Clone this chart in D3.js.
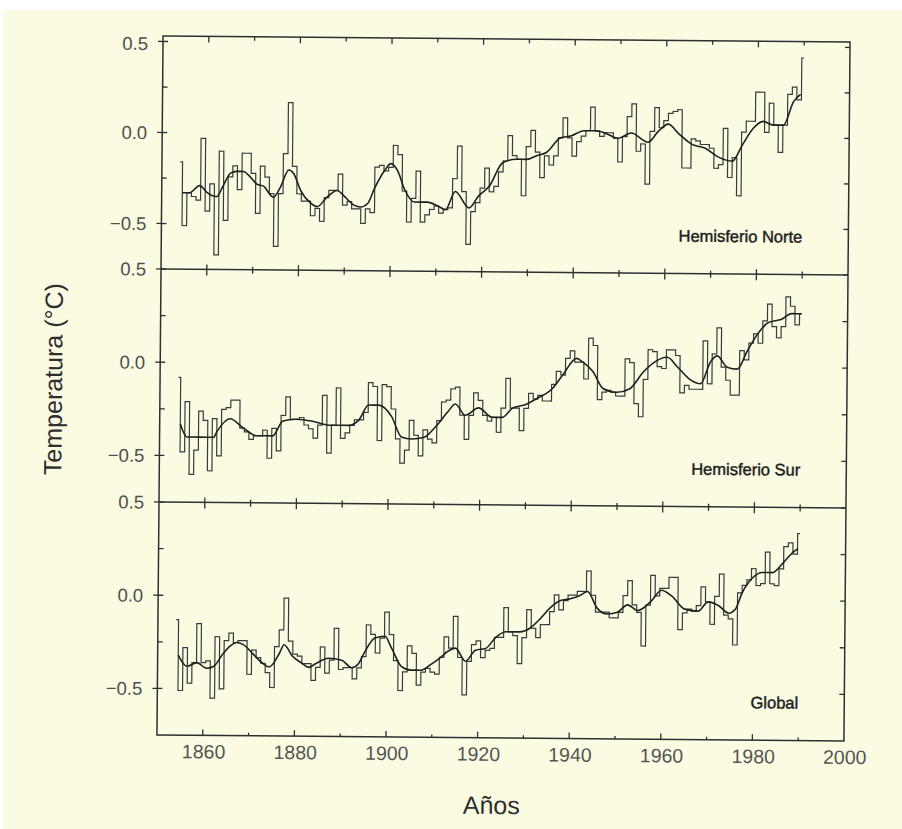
<!DOCTYPE html>
<html>
<head>
<meta charset="utf-8">
<script src="https://cdn.jsdelivr.net/npm/d3@7"></script>
<style>
  body { margin: 0; background: #ffffff; }
  text { font-family: "Liberation Sans", Arial, sans-serif; }
  .tickLabel { font-size: 18.5px; fill: #4f4f4f; }
  .yearLabel { font-size: 19.5px; fill: #555555; }
  .panelLabel { font-size: 16.5px; fill: #1e1e1e; stroke: #1e1e1e; stroke-width: 0.45; }
  .axisTitle { font-size: 25px; fill: #2e2e2e; }
  .frame { fill: none; stroke: #2f2f2f; stroke-width: 1.5; }
  .tick { stroke: #2f2f2f; stroke-width: 1.3; }
  .annual { fill: none; stroke: #3a3a3a; stroke-width: 1.2; }
  .smooth { fill: none; stroke: #1f1f1f; stroke-width: 1.6; }
</style>
</head>
<body>
<div id="chart"></div>
<script>

// annual anomalies, one value per year from 1854 to 1990
const firstYear = 1854;

const nhValues = [
    -0.16, -0.51, -0.33, -0.35, -0.37, -0.03,
    -0.43, -0.28, -0.67, -0.10, -0.48, -0.24, -0.18, -0.31, -0.11, -0.11,
    -0.22, -0.44, -0.18, -0.24, -0.33, -0.62, -0.33, -0.11, 0.17, -0.18,
    -0.33, -0.37, -0.37, -0.45, -0.41, -0.48, -0.35, -0.31, -0.31, -0.22,
    -0.39, -0.37, -0.41, -0.41, -0.49, -0.41, -0.43, -0.18, -0.17, -0.20,
    -0.18, -0.06, -0.11, -0.31, -0.48, -0.35, -0.20, -0.48, -0.44, -0.41,
    -0.39, -0.43, -0.41, -0.40, -0.24, -0.06, -0.31, -0.60, -0.42, -0.37,
    -0.29, -0.18, -0.31, -0.28, -0.20, -0.14, 0.00, -0.11, -0.13, -0.33,
    -0.06, 0.03, -0.09, -0.23, -0.11, -0.16, -0.11, -0.01, 0.10, -0.01,
    -0.11, -0.03, 0.00, 0.03, 0.16, 0.03, 0.00, 0.02, 0.02, -0.01,
    -0.14, 0.00, 0.11, 0.18, -0.08, -0.04, -0.26, 0.03, 0.16, 0.05,
    0.09, 0.13, 0.14, 0.15, -0.17, -0.17, -0.01, -0.02, -0.04, -0.04,
    -0.06, -0.17, -0.15, 0.05, -0.22, -0.11, -0.32, 0.03, 0.09, 0.09,
    0.25, 0.25, 0.03, 0.19, 0.07, -0.08, 0.07, 0.24, 0.28, 0.21,
    0.44
];

const shValues = [
    -0.08, -0.48, -0.21, -0.60, -0.47, -0.26,
    -0.31, -0.58, -0.30, -0.50, -0.25, -0.24, -0.20, -0.20, -0.35, -0.37,
    -0.41, -0.39, -0.39, -0.36, -0.51, -0.35, -0.47, -0.28, -0.18, -0.30,
    -0.30, -0.29, -0.33, -0.35, -0.40, -0.33, -0.17, -0.48, -0.33, -0.13,
    -0.40, -0.37, -0.33, -0.30, -0.30, -0.26, -0.10, -0.12, -0.41, -0.11,
    -0.12, -0.24, -0.40, -0.53, -0.46, -0.30, -0.38, -0.49, -0.35, -0.40,
    -0.42, -0.30, -0.20, -0.19, -0.13, -0.12, -0.27, -0.40, -0.27, -0.15,
    -0.19, -0.27, -0.30, -0.28, -0.36, -0.23, -0.07, -0.23, -0.23, -0.35,
    -0.23, -0.15, -0.18, -0.16, -0.19, -0.19, -0.10, -0.03, -0.05, 0.04,
    0.08, 0.02, 0.02, -0.07, 0.15, 0.11, -0.18, -0.14, -0.13, -0.14,
    -0.16, -0.16, 0.04, 0.02, -0.20, -0.27, -0.07, 0.09, 0.08, 0.00,
    -0.01, 0.09, 0.09, 0.06, -0.14, -0.10, -0.12, -0.12, -0.12, 0.14,
    -0.09, 0.07, 0.21, 0.00, -0.07, -0.15, -0.15, 0.09, 0.04, 0.13,
    0.18, 0.13, 0.25, 0.34, 0.22, 0.16, 0.22, 0.38, 0.33, 0.23,
    0.29
];

const glValues = [
    -0.13, -0.51, -0.28, -0.47, -0.36, -0.15,
    -0.36, -0.35, -0.55, -0.22, -0.50, -0.24, -0.20, -0.25, -0.24, -0.24,
    -0.42, -0.29, -0.33, -0.36, -0.41, -0.49, -0.27, -0.18, -0.01, -0.24,
    -0.31, -0.32, -0.36, -0.36, -0.45, -0.38, -0.27, -0.41, -0.34, -0.17,
    -0.39, -0.38, -0.38, -0.44, -0.38, -0.32, -0.15, -0.20, -0.30, -0.22,
    -0.08, -0.20, -0.34, -0.50, -0.40, -0.26, -0.30, -0.47, -0.40, -0.38,
    -0.40, -0.41, -0.32, -0.21, -0.27, -0.10, -0.32, -0.52, -0.34, -0.25,
    -0.23, -0.32, -0.28, -0.27, -0.21, -0.21, -0.05, -0.18, -0.20, -0.35,
    -0.21, -0.06, -0.16, -0.21, -0.14, -0.14, -0.07, 0.02, -0.06, -0.01,
    0.02, 0.02, 0.04, 0.04, 0.15, 0.02, -0.07, -0.07, -0.07, -0.10,
    -0.10, -0.07, 0.02, 0.10, -0.03, -0.07, -0.25, -0.03, 0.13, 0.02,
    0.06, 0.06, 0.12, 0.12, -0.16, -0.07, -0.05, -0.06, -0.03, 0.07,
    -0.01, -0.13, 0.02, 0.14, -0.08, -0.10, -0.24, 0.04, 0.08, 0.11,
    0.17, 0.08, 0.09, 0.26, 0.09, 0.08, 0.17, 0.29, 0.31, 0.25,
    0.36
];

// smoothed curves, read at the points where the curve turns
const nhSmoothYears = [1854.5, 1856, 1858.3, 1860, 1862, 1863.4, 1865, 1866.4, 1867.8, 1869.3,
    1870.8, 1872.2, 1874.4, 1876, 1877.7, 1878.8, 1880.3, 1882.5, 1884, 1886, 1888.3, 1889.8,
    1892, 1893.4, 1895, 1896.4, 1898.6, 1900, 1901.5, 1903, 1905.2, 1908, 1910.3, 1912, 1914.1,
    1917.1, 1919.3, 1921.5, 1924.4, 1927.4, 1929.6, 1931.8, 1934, 1937, 1939.2, 1942.1, 1944.3,
    1946.5, 1949.5, 1952.4, 1956.1, 1958.3, 1960.5, 1962.7, 1965.7, 1968.6, 1971.6, 1974.5,
    1976.7, 1979, 1981.2, 1983.4, 1985.6, 1987.8, 1989.3];
const nhSmooth = [-0.33, -0.33, -0.29, -0.33, -0.35, -0.29, -0.22, -0.21, -0.21, -0.24,
    -0.28, -0.29, -0.35, -0.29, -0.20, -0.22, -0.31, -0.38, -0.40, -0.35, -0.31, -0.34,
    -0.39, -0.40, -0.38, -0.30, -0.20, -0.16, -0.20, -0.30, -0.37, -0.37, -0.39, -0.41, -0.31,
    -0.40, -0.33, -0.28, -0.15, -0.13, -0.13, -0.11, -0.09, -0.01, 0.00, 0.03, 0.03,
    0.02, -0.01, 0.02, -0.03, 0.03, 0.07, 0.02, -0.04, -0.06, -0.11, -0.13,
    -0.04, 0.05, 0.09, 0.07, 0.07, 0.20, 0.24];

const shSmoothYears = [1854.5, 1856, 1859, 1861.8, 1862.5, 1865.4, 1868.3, 1871.2, 1874.7, 1876.9,
    1879.8, 1883.4, 1887, 1891.3, 1893.5, 1895.6, 1897.8, 1900.6, 1902.8, 1905, 1907.8, 1910,
    1913, 1914.5, 1916.7, 1919.6, 1922.6, 1924.8, 1927, 1929.9, 1932.1, 1935.8, 1937.9, 1940.9,
    1942.3, 1944.5, 1946.7, 1949.7, 1952.6, 1955.5, 1957.7, 1960.7, 1962.9, 1965.8, 1968,
    1970.2, 1971.6, 1973.8, 1976, 1978.2, 1980.4, 1982.6, 1985.6, 1987.8, 1990];
const shSmooth = [-0.33, -0.40, -0.40, -0.40, -0.37, -0.30, -0.35, -0.39, -0.39, -0.31,
    -0.30, -0.31, -0.33, -0.33, -0.30, -0.22, -0.22, -0.28, -0.39, -0.40, -0.39, -0.34,
    -0.25, -0.21, -0.27, -0.23, -0.28, -0.28, -0.23, -0.21, -0.18, -0.12, -0.05, 0.04,
    0.02, -0.03, -0.12, -0.14, -0.12, -0.03, 0.02, 0.05, 0.00, -0.07, -0.09,
    0.03, 0.06, 0.00, -0.01, 0.09, 0.18, 0.24, 0.26, 0.29, 0.29];

const glSmoothYears = [1854.5, 1856.4, 1858.6, 1860.7, 1862.2, 1864.3, 1865.8, 1867.2, 1868.6, 1870.8,
    1872.9, 1874.4, 1876.5, 1877.6, 1879.4, 1881.6, 1883, 1884.5, 1887.3, 1890.2, 1892.4, 1893.8,
    1895.3, 1897.4, 1899.6, 1901, 1903.2, 1905.3, 1907.5, 1909.6, 1911.8, 1913.2, 1915, 1917.2,
    1919.4, 1921.6, 1923.8, 1926, 1929, 1931.2, 1933.4, 1935.6, 1937.8, 1940, 1942.2, 1943.7,
    1945.9, 1948.1, 1950.3, 1952.5, 1954.7, 1957.6, 1959.9, 1962.1, 1965, 1967.9, 1970.1,
    1972.4, 1974.6, 1976, 1977.5, 1979.7, 1981.9, 1984.1, 1986.3, 1988.5, 1989.6];
const glSmooth = [-0.32, -0.38, -0.36, -0.39, -0.38, -0.31, -0.27, -0.25, -0.26, -0.31,
    -0.36, -0.38, -0.31, -0.26, -0.32, -0.36, -0.38, -0.36, -0.33, -0.34, -0.38, -0.36,
    -0.29, -0.22, -0.21, -0.27, -0.37, -0.39, -0.39, -0.36, -0.32, -0.29, -0.27, -0.34,
    -0.28, -0.27, -0.21, -0.18, -0.18, -0.16, -0.11, -0.05, -0.01, 0.00, 0.02, 0.04,
    -0.05, -0.08, -0.07, -0.03, -0.06, -0.01, 0.05, 0.02, -0.05, -0.06, -0.01,
    -0.03, -0.07, -0.05, 0.04, 0.12, 0.15, 0.15, 0.20, 0.26, 0.28];

const panelNames = ["Hemisferio Norte", "Hemisferio Sur", "Global"];
const yearTicks = [1860, 1870, 1880, 1890, 1900, 1910, 1920, 1930, 1940, 1950, 1960, 1970, 1980, 1990];
const yearLabels = [1860, 1880, 1900, 1920, 1940, 1960, 1980, 2000];
const tempTicks = [-0.5, -0.25, 0, 0.25, 0.5];
const tempLabels = [-0.5, 0, 0.5];

function makeChart() {

    /**********************
    ***** BASIC SETUP *****
    **********************/

    const width = 902;
    const height = 829;
    const left = 160;
    const right = 847;
    const panelTop = 39;
    const panelHeight = 233;

    const svg = d3.select("#chart")
        .append("svg")
        .attr("width", width)
        .attr("height", height);

    // paper
    svg.append("rect")
        .attr("x", 3).attr("y", 10)
        .attr("width", width - 3).attr("height", height - 10)
        .attr("fill", "#fbfbe2");

    // the scan is tilted a little
    const chart = svg.append("g")
        .attr("transform", "rotate(0.5, 503, 388)");

    /*************************
    ***** DATA WRANGLING *****
    *************************/

    const toPoints = vals => vals.map((v, i) => ({year: firstYear + i, value: v}));
    const toSmooth = (yrs, vals) => yrs.map((yr, i) => ({year: yr, value: vals[i]}));

    const panels = [
        {annual: toPoints(nhValues), smooth: toSmooth(nhSmoothYears, nhSmooth), domain: [-0.75, 0.53]},
        {annual: toPoints(shValues), smooth: toSmooth(shSmoothYears, shSmooth), domain: [-0.75, 0.5]},
        {annual: toPoints(glValues), smooth: toSmooth(glSmoothYears, glSmooth), domain: [-0.75, 0.5]}
    ];

    /***********************
    ***** X & Y SCALES *****
    ***********************/

    const xScale = d3.scaleLinear()
        .domain([1850, 2000])
        .range([left, right]);

    const bottom = panelTop + 3 * panelHeight;

    /*****************
    ***** PANELS *****
    *****************/

    panels.forEach((p, k) => {
        const top = panelTop + k * panelHeight;
        const yScale = d3.scaleLinear()
            .domain(p.domain)
            .range([top + panelHeight, top]);

        const g = chart.append("g").attr("class", "panel");

        // left ticks and labels
        g.selectAll(".yTick")
            .data(tempTicks)
            .enter()
            .append("line")
            .attr("class", "tick")
            .attr("x1", d => tempLabels.includes(d) ? left - 5 : left)
            .attr("x2", left + 5)
            .attr("y1", d => yScale(d))
            .attr("y2", d => yScale(d));

        g.selectAll(".tickLabel")
            .data(tempLabels)
            .enter()
            .append("text")
            .attr("class", "tickLabel")
            .attr("text-anchor", "end")
            .attr("x", left - 15)
            .attr("y", d => yScale(d) + (k === 0 && d === 0.5 ? 2 : 0))
            .attr("dy", "0.36em")
            .text(d => d === 0 ? "0.0" : (d < 0 ? "\u2212" : "") + d3.format(".1f")(Math.abs(d)));

        // right ticks
        g.selectAll(".rTick")
            .data(tempTicks)
            .enter()
            .append("line")
            .attr("class", "tick")
            .attr("x1", right - 5)
            .attr("x2", right)
            .attr("y1", d => yScale(d))
            .attr("y2", d => yScale(d));

        // ticks on the top edge of each panel
        g.selectAll(".xTick")
            .data(yearTicks)
            .enter()
            .append("line")
            .attr("class", "tick")
            .attr("x1", d => xScale(d))
            .attr("x2", d => xScale(d))
            .attr("y1", d => k === 0 ? top : top - (d % 20 === 0 ? 5 : 3))
            .attr("y2", d => top + (d % 20 === 0 ? 6 : 4));

        // annual values as steps
        g.append("path")
            .datum(p.annual)
            .attr("class", "annual")
            .attr("d", d3.line()
                .x(d => xScale(d.year))
                .y(d => yScale(d.value))
                .curve(d3.curveStep));

        // smoothed curve
        g.append("path")
            .datum(p.smooth)
            .attr("class", "smooth")
            .attr("d", d3.line()
                .x(d => xScale(d.year))
                .y(d => yScale(d.value))
                .curve(d3.curveMonotoneX));

        g.append("text")
            .attr("class", "panelLabel")
            .attr("text-anchor", "end")
            .attr("x", 801)
            .attr("y", top + panelHeight - 32)
            .text(panelNames[k]);
    });

    // outer frame and panel borders
    chart.append("rect")
        .attr("class", "frame")
        .attr("x", left).attr("y", panelTop)
        .attr("width", right - left).attr("height", 3 * panelHeight);

    chart.selectAll(".divider")
        .data([1, 2])
        .enter()
        .append("line")
        .attr("class", "frame")
        .attr("x1", left).attr("x2", right)
        .attr("y1", d => panelTop + d * panelHeight)
        .attr("y2", d => panelTop + d * panelHeight);

    /***************************************
    ***** X AXIS, AXIS LABELS, TITLES *****
    ***************************************/

    chart.selectAll(".bTick")
        .data(yearTicks)
        .enter()
        .append("line")
        .attr("class", "tick")
        .attr("x1", d => xScale(d))
        .attr("x2", d => xScale(d))
        .attr("y1", bottom)
        .attr("y2", d => bottom - (d % 20 === 0 ? 6 : 3));

    chart.selectAll(".yearLabel")
        .data(yearLabels)
        .enter()
        .append("text")
        .attr("class", "yearLabel")
        .attr("text-anchor", "middle")
        .attr("x", d => xScale(d) + 1)
        .attr("y", bottom + 23)
        .text(d => d);

    chart.append("text")
        .attr("class", "axisTitle")
        .attr("text-anchor", "middle")
        .attr("x", 495)
        .attr("y", 814)
        .text("Años");

    chart.append("text")
        .attr("class", "axisTitle")
        .attr("text-anchor", "middle")
        .attr("transform", "translate(62, 383) rotate(-90)")
        .text("Temperatura (°C)");
}

makeChart();
</script>
</body>
</html>
